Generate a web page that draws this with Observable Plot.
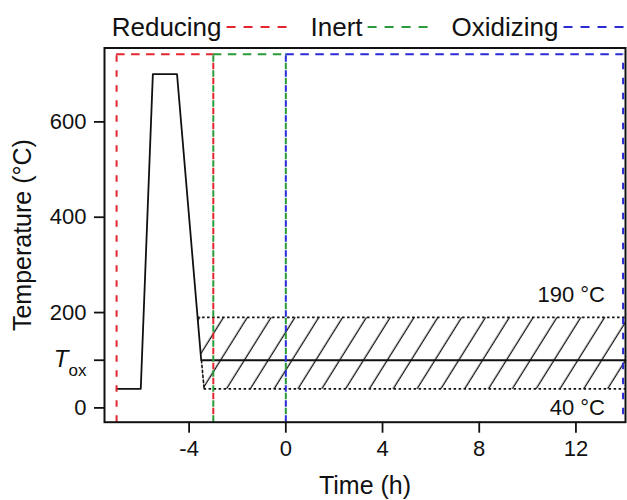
<!DOCTYPE html>
<html><head><meta charset="utf-8">
<script src="https://cdn.jsdelivr.net/npm/d3@7"></script>
<script src="https://cdn.jsdelivr.net/npm/@observablehq/plot@0.6"></script>
<style>
body{margin:0;background:#fff;font-family:"Liberation Sans",Arial,sans-serif;}
#chart{width:627px;height:500px;}
svg{display:block;}
</style></head><body><div id="chart"></div>
<script>
// Gas phases (dashed boxes)
const phaseNames = ["Reducing", "Inert", "Oxidizing"];
const phaseColors = ["#e3262f", "#2a9b3a", "#2a2ad6"];
const phaseStart = [-7, -3, 0];
const phaseEnd = [-3, 0, 13.95];
const phaseTop = 742;
const axisBottom = -30;

// Temperature programme
const timeX = [-7, -6, -5.5, -4.5, -3.5, 14.05];
const tempY = [40, 40, 700, 700, 100, 100];

// Oxidation temperature window (hatched)
const windowX = [-3.65, 14.05, 14.05, -3.38, -3.49];
const windowY = [190, 190, 40, 40, 100];
const windowLow = 40, windowHigh = 190;
const windowLabels = ["190 °C", "40 °C"];
const windowLabelX = [13.2, 13.2];
const windowLabelY = [222, -15];

// Ticks
const xTicks = [-4, 0, 4, 8, 12];
const yTicks = [0, 100, 200, 400, 600];
const yTickLabels = ["0", "Tox", "200", "400", "600"];

// ---- legend (above the plot) ----
const legend = d3.select("#chart").append("svg").attr("width", 627).attr("height", 45);
let cx = 111.7;
phaseNames.forEach((n, i) => {
  const t = legend.append("text").attr("x", cx).attr("y", 36)
    .attr("font-size", 26).attr("fill", "#111")
    .attr("font-family", "Liberation Sans, Arial, sans-serif").text(n);
  const w = t.node().getComputedTextLength();
  const x0 = cx + w + 5;
  legend.append("line").attr("x1", x0).attr("x2", x0 + 62).attr("y1", 27).attr("y2", 27)
    .attr("stroke", phaseColors[i]).attr("stroke-width", 2).attr("stroke-dasharray", "9,8");
  cx = x0 + 64 + 20;
});

// ---- data tables ----
const phases = phaseNames.map((name, i) => ({name, start: phaseStart[i], end: phaseEnd[i], color: phaseColors[i]}));
const profile = timeX.map((x, i) => ({x, y: tempY[i]}));
const windowPoly = windowX.map((x, i) => ({x, y: windowY[i]}));
const windowBounds = [
  {x1: windowX[0], x2: windowX[1], y: windowHigh},
  {x1: windowX[3], x2: windowX[2], y: windowLow}
];
const windowLeft = [{x: windowX[4], y: windowY[4]}, {x: windowX[3], y: windowY[3]}];
const labels = windowLabels.map((text, i) => ({text, x: windowLabelX[i], y: windowLabelY[i]}));

const plot = Plot.plot({
  width: 627, height: 455,
  marginTop: 2.5, marginBottom: 78.3, marginLeft: 104, marginRight: 2,
  style: {fontFamily: "Liberation Sans, Arial, sans-serif", fontSize: "22px", color: "#111", background: "transparent", overflow: "visible"},
  x: {domain: [-7.5, 14.05]},
  y: {domain: [axisBottom, 755]},
  color: {type: "identity"},
  marks: [
    Plot.line(windowPoly, {x: "x", y: "y", fill: "url(#hatch)", stroke: "none"}),
    Plot.ruleY(windowBounds, {y: "y", x1: "x1", x2: "x2", stroke: "#111", strokeWidth: 1.6, strokeDasharray: "2.5,2.5"}),
    Plot.line(windowLeft, {x: "x", y: "y", stroke: "#111", strokeWidth: 1.6, strokeDasharray: "2.5,2.5"}),
    Plot.line(profile, {x: "x", y: "y", stroke: "#111", strokeWidth: 1.8}),
    Plot.ruleY(phases, {y: phaseTop, x1: "start", x2: "end", stroke: "color", strokeWidth: 2, strokeDasharray: "8.5,6.5"}),
    Plot.ruleX(phases, {x: "end", y1: axisBottom, y2: phaseTop, stroke: "color", strokeWidth: 2, strokeDasharray: "6.5,8.5", strokeDashoffset: 7.5}),
    Plot.ruleX(phases, {x: "start", y1: axisBottom, y2: phaseTop, stroke: "color", strokeWidth: 2, strokeDasharray: "6.5,8.5"}),
    Plot.text(labels, {x: "x", y: "y", text: "text", textAnchor: "end", lineAnchor: "bottom", fontSize: 22, fill: "#111"}),
    Plot.frame({stroke: "#111", strokeWidth: 2}),
    Plot.axisX({ticks: xTicks, tickFormat: d => String(d), tickSize: 11, tickPadding: 7, strokeWidth: 1.8,
      label: "Time (h)", labelAnchor: "center", labelOffset: 72, labelArrow: "none"}),
    Plot.axisY({ticks: yTicks, tickFormat: d => yTickLabels[yTicks.indexOf(d)], tickSize: 10, tickPadding: 8, strokeWidth: 1.8,
      label: "Temperature (°C)", labelAnchor: "center", labelOffset: 91, labelArrow: "none"})
  ]
});
document.getElementById("chart").appendChild(plot);

const svg = d3.select(plot);
const defs = svg.insert("defs", ":first-child");
const pat = defs.append("pattern").attr("id", "hatch").attr("patternUnits", "userSpaceOnUse")
  .attr("width", 20.2).attr("height", 20.2).attr("patternTransform", "rotate(32)");
pat.append("line").attr("x1", 10).attr("x2", 10).attr("y1", -1).attr("y2", 21.2)
  .attr("stroke", "#111").attr("stroke-width", 1.3);

svg.selectAll('g[aria-label="x-axis label"] text, g[aria-label="y-axis label"] text').attr("font-size", 25);
svg.selectAll("text").filter(function() { return this.textContent === "Tox"; }).each(function() {
  const t = d3.select(this);
  t.text("");
  t.append("tspan").attr("font-style", "italic").attr("font-size", 24).text("T");
  t.append("tspan").attr("font-size", 17).attr("dy", 9).text("ox");
});
</script></body></html>
